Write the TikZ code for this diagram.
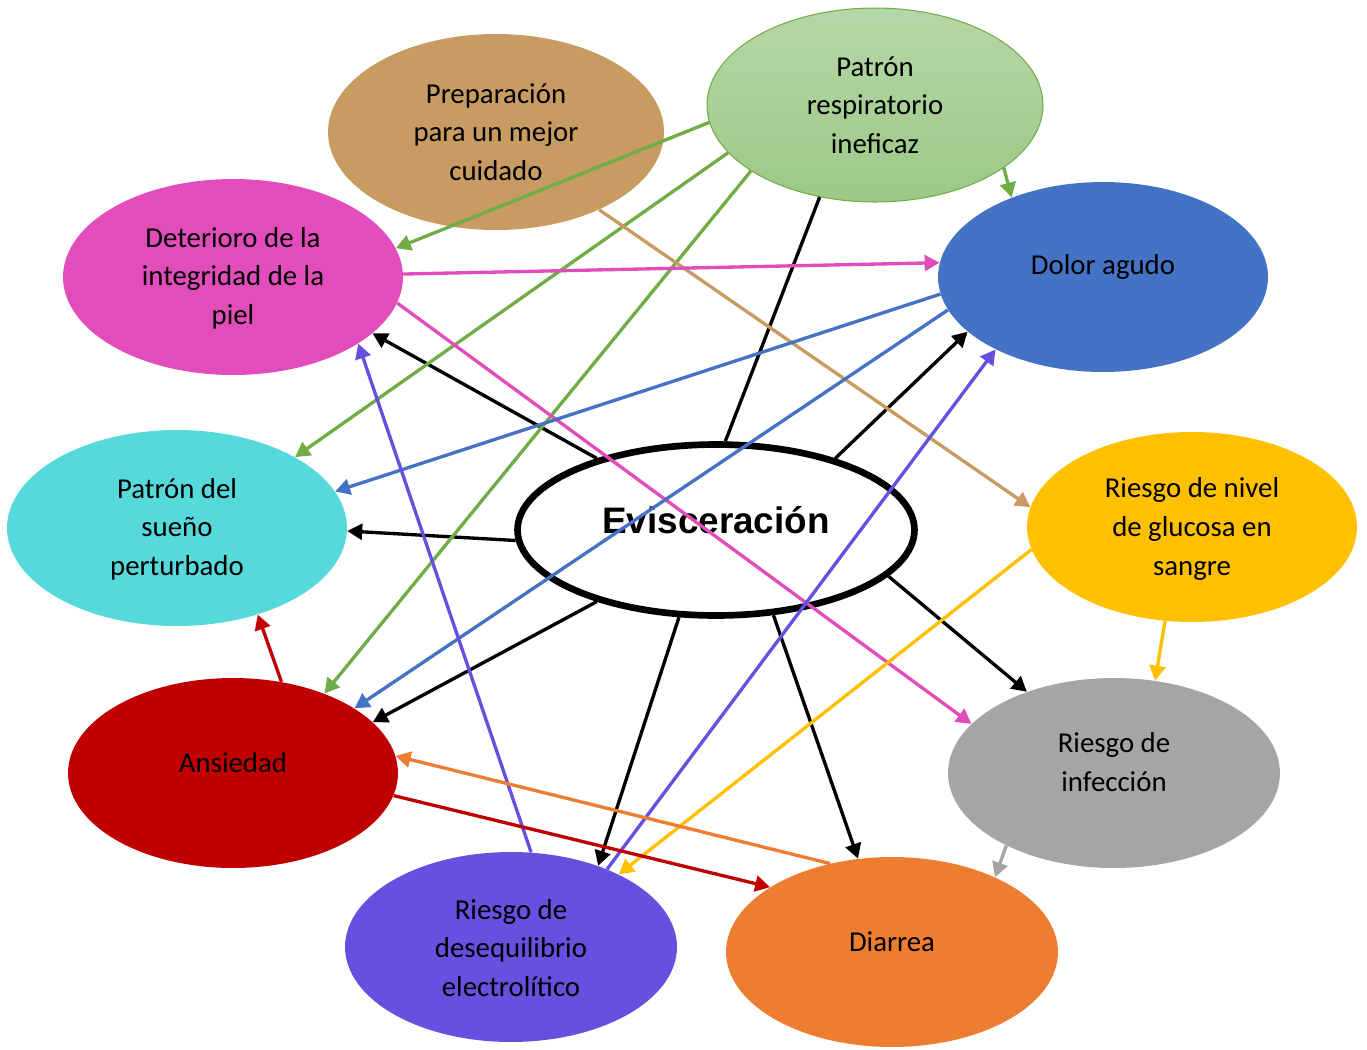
\documentclass[tikz,border=0pt]{standalone}
\usepackage{fontspec}
\setmainfont{Carlito}
\newfontfamily\evfont{Liberation Sans}
\usetikzlibrary{shapes.geometric,arrows.meta}
\definecolor{cPrep}{HTML}{C89B62}
\definecolor{cRespT}{HTML}{B6D7A8}
\definecolor{cRespB}{HTML}{9BC985}
\definecolor{cGreen}{HTML}{70AD47}
\definecolor{cMag}{HTML}{E24CBB}
\definecolor{cBlue}{HTML}{4472C4}
\definecolor{cCyan}{HTML}{55D9DB}
\definecolor{cYel}{HTML}{FFC000}
\definecolor{cRed}{HTML}{C00000}
\definecolor{cGray}{HTML}{A5A5A5}
\definecolor{cPur}{HTML}{6650DF}
\definecolor{cOra}{HTML}{ED7D31}
\begin{document}
\begin{tikzpicture}[x=0.02cm,y=-0.02cm,
  bub/.style={ellipse,inner sep=0pt,draw=none},
  txt/.style={align=center,inner sep=0pt,font=\fontsize{16.4}{22}\selectfont,text=black},
  con/.style={line width=1.9pt,-{Triangle[width=9pt,length=8.5pt]}},
  ln/.style={line width=1.9pt}]
\useasboundingbox (0,0) rectangle (1367,1049);
% bubbles
\node[bub,fill=cPrep,minimum width=6.72cm,minimum height=3.92cm] (P) at (496,132) {};
\node[bub,top color=cRespT,bottom color=cRespB,draw=cGreen,line width=0.6pt,minimum width=6.72cm,minimum height=3.88cm] (R) at (875,105) {};
\node[bub,fill=cMag,minimum width=6.80cm,minimum height=3.92cm] (D) at (233,277) {};
\node[bub,fill=cBlue,minimum width=6.60cm,minimum height=3.80cm] (A) at (1103,277) {};
\node[bub,fill=cCyan,minimum width=6.80cm,minimum height=3.92cm] (S) at (177,528) {};
\node[bub,fill=cYel,minimum width=6.60cm,minimum height=3.80cm] (G) at (1192,527) {};
\node[bub,fill=cRed,minimum width=6.60cm,minimum height=3.80cm] (X) at (233,773) {};
\node[bub,fill=cGray,minimum width=6.64cm,minimum height=3.80cm] (I) at (1114,773) {};
\node[bub,fill=cPur,minimum width=6.64cm,minimum height=3.80cm] (Q) at (511,947) {};
\node[bub,fill=cOra,minimum width=6.64cm,minimum height=3.80cm] (Dr) at (892,952) {};
\node[bub,fill=white,draw=black,line width=3.8pt,minimum width=7.94cm,minimum height=3.42cm] (E) at (716,530) {};
% texts
\node[txt] (tP) at (496,132) {Preparación\\para un mejor\\cuidado};
\node[txt] (tR) at (875,105) {Patrón\\respiratorio\\ineficaz};
\node[txt] (tD) at (233,278) {Deterioro de la\\integridad de la\\piel};
\node[txt] (tA) at (1103,267) {Dolor agudo};
\node[txt] (tS) at (177,529) {Patrón del\\sueño\\perturbado};
\node[txt] (tG) at (1192,529) {Riesgo de nivel\\de glucosa en\\sangre};
\node[txt] (tX) at (233,763) {Ansiedad};
\node[txt] (tI) at (1114,762) {Riesgo de\\infección};
\node[txt] (tQ) at (511,948) {Riesgo de\\desequilibrio\\electrolítico};
\node[txt] (tDr) at (892,942) {Diarrea};
\node[inner sep=0pt,font=\evfont\bfseries\fontsize{21}{25}\selectfont] (tE) at (716,520) {Evisceración};
% black connectors
\draw[ln,black] (E.84.2) -- (R.239.4);
\draw[con,black] (E.149.2) -- (D.-22.2);
\draw[con,black] (E.183.7) -- (S.-1.7);
\draw[con,black] (E.211.2) -- (X.20.5);
\draw[con,black] (E.247.1) -- (Q.43.6);
\draw[con,black] (E.-56.2) -- (Dr.110.3);
\draw[con,black] (E.-15.4) -- (I.137);
\draw[con,black] (E.31.2) -- (A.202.4);
% green
\draw[con,cGreen] (R.186.9) -- (D.10.8);
\draw[con,cGreen] (R.198.8) -- (S.31.5);
\draw[con,cGreen] (R.208.2) -- (X.41.4);
\draw[con,cGreen] (R.-26.7) -- (A.139.9);
% tan
\draw[con,cPrep] (P.-37.4) -- (G.173.3);
% magenta
\draw[con,cMag] (D.1.4) -- (A.175.6);
\draw[con,cMag] (D.-9.6) -- (I.161.5);
% blue
\draw[con,cBlue] (A.186) -- (S.13.4);
\draw[con,cBlue] (A.192) -- (X.28);
% purple
\draw[con,cPur] (Q.78.6) -- (D.-28.2);
\draw[con,cPur] (Q.39.3) -- (A.214.3);
% yellow
\draw[con,cYel] (G.188.1) -- (Q.34.7);
\draw[con,cYel] (G.254.1) -- (I.66.3);
% red
\draw[con,cRed] (X.62.7) -- (S.-47.3);
\draw[con,cRed] (X.-8.7) -- (Dr.152);
% orange
\draw[con,cOra] (Dr.125.4) -- (X.6.6);
% gray
\draw[con,cGray] (I.214.7) -- (Dr.36.3);
\end{tikzpicture}
\end{document}
